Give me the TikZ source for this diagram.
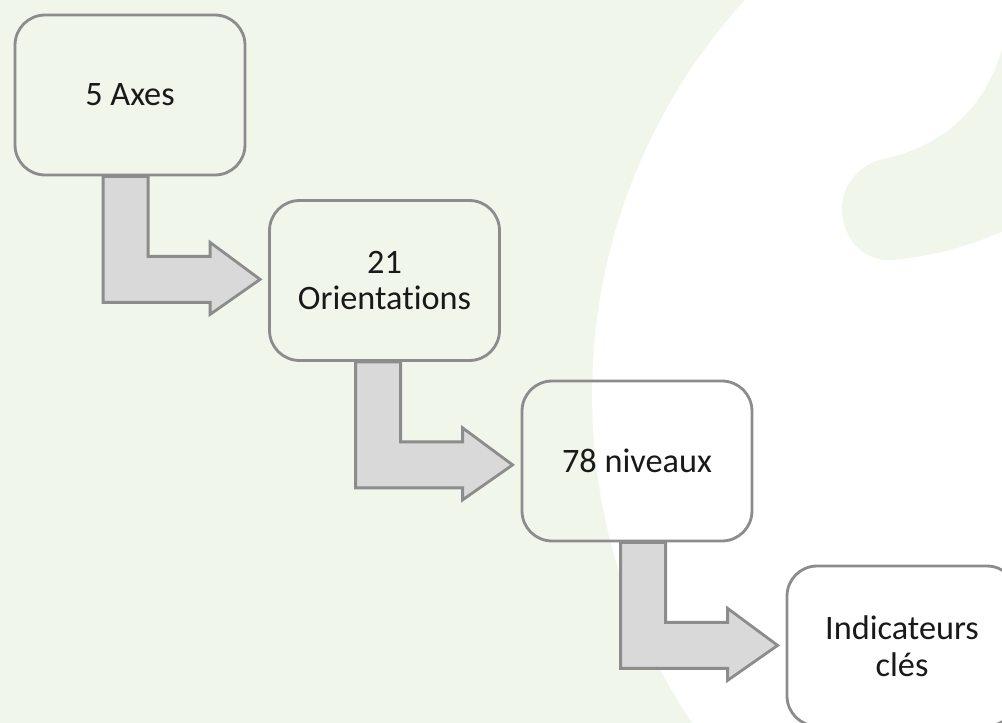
\documentclass[tikz,border=0pt]{standalone}
\usepackage{fontspec}
\setmainfont{Carlito}[Ligatures={NoCommon}]
\usetikzlibrary{calc}
\definecolor{bggreen}{HTML}{F1F6EA}
\definecolor{edgegray}{HTML}{8C8C8C}
\definecolor{arrowfill}{HTML}{D9D9D9}
\pgfdeclarelayer{bg}
\pgfsetlayers{bg,main}
\tikzset{
  stepbox/.style={draw=edgegray, line width=1.6pt, rounded corners=0.6cm,
    minimum width=4.6cm, minimum height=3.2cm, align=center,
    font=\fontsize{19.5}{21}\selectfont, text=black!90, inner sep=0pt},
  barrow/.style={draw=edgegray, fill=arrowfill, line width=1.6pt, line join=miter}
}
\newcommand\blockarrow[2]{%
  \path ($(#1.south)+(0,103)$) coordinate (ty) ($(#2.west)+(-8,0)$) coordinate (tx);
  \coordinate (t) at (ty -| tx);
  \path ($(t)+(-157,0)$) coordinate (sx);
  \coordinate (s0) at (sx |- #1.south);
  \draw[barrow] (s0) -- ++(45,0) |- ($(t)+(-50,-23)$) -- ($(t)+(-50,-37)$) -- (t)
     -- ($(t)+(-50,35)$) -- ($(t)+(-50,23)$) -- ($(s0 |- t)+(0,23)$) -- cycle;
}
\begin{document}
\begin{tikzpicture}[x=0.02cm, y=-0.02cm]
\useasboundingbox (0,0) rectangle (1002,723);
\node[stepbox] (a) at (130,95) {5 Axes};
\node[stepbox] (b) at (384.5,280.5) {21\\Orientations};
\node[stepbox] (c) at (637,461) {78 niveaux};
\node[stepbox] (d) at (902,646) {Indicateurs\\clés};
\begin{pgfonlayer}{bg}
  \begin{scope}
    \clip (0,0) rectangle (1002,723);
    \fill[bggreen] (0,0) rectangle (1002,723);
    \fill[white] (1179,395) circle [radius=11.74cm];
    \fill[bggreen] (1010,10) .. controls (1000,90) and (960,140) .. (888,158)
      .. controls (860,162) and (842,185) .. (842,208)
      .. controls (842,240) and (865,262) .. (892,260)
      .. controls (940,256) and (980,242) .. (1010,228) -- cycle;
  \end{scope}
  \blockarrow{a}{b}
  \blockarrow{b}{c}
  \blockarrow{c}{d}
\end{pgfonlayer}
\end{tikzpicture}
\end{document}
